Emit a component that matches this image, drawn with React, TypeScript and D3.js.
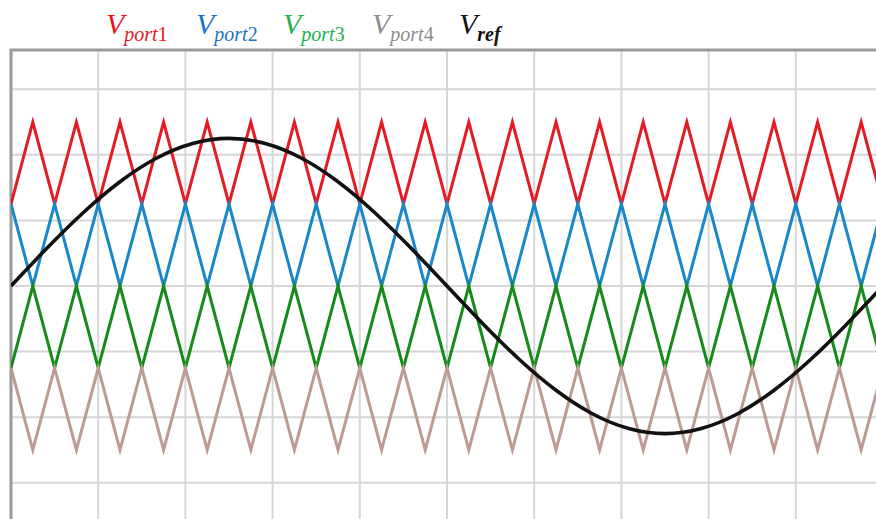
import React, { useEffect, useRef } from 'react';
import * as d3 from 'd3';

// carrier vertices, one every 9 degrees of the reference period (20 carrier periods)
const port1 = [0.5, 1, 0.5, 1, 0.5, 1, 0.5, 1, 0.5, 1, 0.5, 1, 0.5, 1, 0.5, 1, 0.5, 1, 0.5, 1, 0.5, 1, 0.5, 1, 0.5, 1, 0.5, 1, 0.5, 1, 0.5, 1, 0.5, 1, 0.5, 1, 0.5, 1, 0.5, 1, 0.5];
const port2 = [0.5, 0, 0.5, 0, 0.5, 0, 0.5, 0, 0.5, 0, 0.5, 0, 0.5, 0, 0.5, 0, 0.5, 0, 0.5, 0, 0.5, 0, 0.5, 0, 0.5, 0, 0.5, 0, 0.5, 0, 0.5, 0, 0.5, 0, 0.5, 0, 0.5, 0, 0.5, 0, 0.5];
const port3 = [-0.5, 0, -0.5, 0, -0.5, 0, -0.5, 0, -0.5, 0, -0.5, 0, -0.5, 0, -0.5, 0, -0.5, 0, -0.5, 0, -0.5, 0, -0.5, 0, -0.5, 0, -0.5, 0, -0.5, 0, -0.5, 0, -0.5, 0, -0.5, 0, -0.5, 0, -0.5, 0, -0.5];
const port4 = [-0.5, -1, -0.5, -1, -0.5, -1, -0.5, -1, -0.5, -1, -0.5, -1, -0.5, -1, -0.5, -1, -0.5, -1, -0.5, -1, -0.5, -1, -0.5, -1, -0.5, -1, -0.5, -1, -0.5, -1, -0.5, -1, -0.5, -1, -0.5, -1, -0.5, -1, -0.5, -1, -0.5];
const carrierStepDeg = 9;

// reference samples every 15 degrees
const refAngles = [0, 15, 30, 45, 60, 75, 90, 105, 120, 135, 150, 165, 180, 195, 210, 225, 240, 255, 270, 285, 300, 315, 330, 345, 360];
const vref = [0, 0.233, 0.45, 0.636, 0.779, 0.869, 0.9, 0.869, 0.779, 0.636, 0.45, 0.233, 0, -0.233, -0.45, -0.636, -0.779, -0.869, -0.9, -0.869, -0.779, -0.636, -0.45, -0.233, 0];

const xGrid = [36, 72, 108, 144, 180, 216, 252, 288, 324];
const yGrid = [1.2, 0.8, 0.4, 0, -0.4, -0.8, -1.2];

const legend = [
  { sub: 'port', num: '1', color: '#e8141e', x: 106 },
  { sub: 'port', num: '2', color: '#1a74c0', x: 196 },
  { sub: 'port', num: '3', color: '#1db04e', x: 283 },
  { sub: 'port', num: '4', color: '#8c8c8c', x: 372 },
  { sub: 'ref', num: '', color: '#111111', x: 459 },
];

const W = 876;
const H = 519;
const serif = "'Liberation Serif', 'DejaVu Serif', serif";

const App: React.FC = () => {
  const svgRef = useRef<SVGSVGElement>(null);

  useEffect(() => {
    const svg = d3.select(svgRef.current);
    svg.selectAll('*').remove();

    const left = 11;
    const top = 50;
    const x = d3.scaleLinear().domain([0, 360]).range([left, 883]);
    const y = d3.scaleLinear().domain([-1, 1]).range([450, 122]);

    svg.append('rect').attr('width', W).attr('height', H).attr('fill', '#fff');

    svg.append('clipPath').attr('id', 'plot')
      .append('rect').attr('x', left).attr('y', top).attr('width', W - left).attr('height', H - top);

    // grid
    const grid = svg.append('g').attr('stroke', '#d6d6d6').attr('stroke-width', 2);
    xGrid.forEach(d => {
      grid.append('line').attr('x1', x(d)).attr('x2', x(d)).attr('y1', top).attr('y2', H);
    });
    yGrid.forEach(d => {
      grid.append('line').attr('x1', left).attr('x2', W).attr('y1', y(d)).attr('y2', y(d));
    });

    // frame
    svg.append('path')
      .attr('d', `M${left},${H} V${top} H${W}`)
      .attr('fill', 'none')
      .attr('stroke', '#9a9a9a')
      .attr('stroke-width', 3);

    const plot = svg.append('g').attr('clip-path', 'url(#plot)');

    const carrier = d3.line<number>()
      .x((_, i) => x(i * carrierStepDeg))
      .y(d => y(d));

    const series = [
      { values: port1, color: '#e41b23' },
      { values: port2, color: '#1b87c9' },
      { values: port3, color: '#178a1c' },
      { values: port4, color: '#bd9b93' },
    ];
    series.forEach(s => {
      plot.append('path')
        .attr('d', carrier(s.values))
        .attr('fill', 'none')
        .attr('stroke', s.color)
        .attr('stroke-width', 3);
    });

    const refLine = d3.line<number>()
      .x((_, i) => x(refAngles[i]))
      .y(d => y(d))
      .curve(d3.curveNatural);

    plot.append('path')
      .attr('d', refLine(vref))
      .attr('fill', 'none')
      .attr('stroke', '#111')
      .attr('stroke-width', 3.6);

    // legend
    legend.forEach(l => {
      const t = svg.append('text')
        .attr('x', l.x)
        .attr('y', 34)
        .attr('fill', l.color)
        .style('font-family', serif)
        .style('font-style', 'italic')
        .style('font-size', '30px')
        .text('V');
      t.append('tspan')
        .attr('dy', 7)
        .style('font-size', '20px')
        .style('font-weight', l.num ? 'normal' : 'bold')
        .text(l.sub);
      if (l.num) {
        t.append('tspan')
          .style('font-size', '20px')
          .style('font-style', 'normal')
          .text(l.num);
      }
    });
  }, []);

  return (
    <svg
      ref={svgRef}
      width={W}
      height={H}
      style={{ position: 'absolute', left: 0, top: 0, display: 'block' }}
    />
  );
};

export default App;
